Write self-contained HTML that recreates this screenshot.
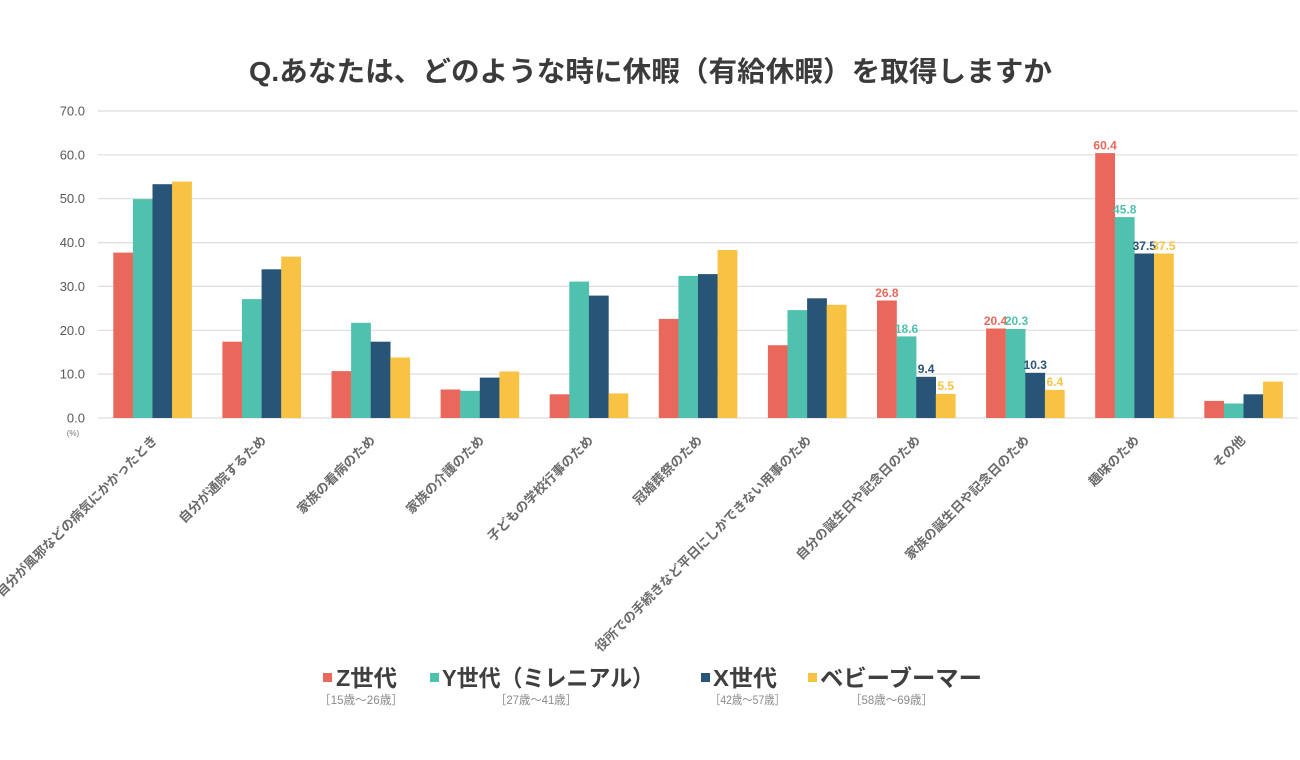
<!DOCTYPE html>
<html>
<head>
<meta charset="utf-8">
<style>
  html,body{margin:0;padding:0;background:#fff;}
  svg{display:block;}
  text{font-family:"Liberation Sans","Noto Sans CJK JP",sans-serif;}
</style>
</head>
<body>
<svg width="1300" height="760" viewBox="0 0 1300 760" xmlns="http://www.w3.org/2000/svg">
  <rect x="0" y="0" width="1300" height="760" fill="#ffffff"/>

  <!-- Title -->
  <text x="249" y="81" font-size="28" font-weight="bold" fill="#3b3b3b" textLength="803" lengthAdjust="spacingAndGlyphs">Q.あなたは、どのような時に休暇（有給休暇）を取得しますか</text>

  <!-- Gridlines -->
  <g stroke="#dedede" stroke-width="1.2">
    <line x1="98" y1="111" x2="1298" y2="111"/>
    <line x1="98" y1="154.8" x2="1298" y2="154.8"/>
    <line x1="98" y1="198.7" x2="1298" y2="198.7"/>
    <line x1="98" y1="242.6" x2="1298" y2="242.6"/>
    <line x1="98" y1="286.4" x2="1298" y2="286.4"/>
    <line x1="98" y1="330.3" x2="1298" y2="330.3"/>
    <line x1="98" y1="374.1" x2="1298" y2="374.1"/>
    <line x1="98" y1="418" x2="1298" y2="418"/>
  </g>

  <!-- Y tick labels -->
  <g font-size="13" fill="#595959" text-anchor="end">
    <text x="85" y="115.5">70.0</text>
    <text x="85" y="159.3">60.0</text>
    <text x="85" y="203.2">50.0</text>
    <text x="85" y="247.1">40.0</text>
    <text x="85" y="290.9">30.0</text>
    <text x="85" y="334.8">20.0</text>
    <text x="85" y="378.6">10.0</text>
    <text x="85" y="422.5">0.0</text>
  </g>
  <text x="73" y="436" font-size="8" fill="#777" text-anchor="middle">(%)</text>

  <!-- Bars: red -->
  <g fill="#E9685B">
    <rect x="113.3" y="252.6" width="19.8" height="165.4"/>
    <rect x="222.4" y="341.7" width="19.8" height="76.3"/>
    <rect x="331.5" y="371.1" width="19.8" height="46.9"/>
    <rect x="440.6" y="389.5" width="19.8" height="28.5"/>
    <rect x="549.7" y="394.3" width="19.8" height="23.7"/>
    <rect x="658.8" y="318.9" width="19.8" height="99.1"/>
    <rect x="767.9" y="345.2" width="19.8" height="72.8"/>
    <rect x="877.0" y="300.5" width="19.8" height="117.5"/>
    <rect x="986.1" y="328.5" width="19.8" height="89.5"/>
    <rect x="1095.2" y="153.1" width="19.8" height="264.9"/>
    <rect x="1204.3" y="400.9" width="19.8" height="17.1"/>
  </g>
  <!-- teal -->
  <g fill="#50C1AE">
    <rect x="132.9" y="199.1" width="19.8" height="218.9"/>
    <rect x="242.0" y="299.1" width="19.8" height="118.9"/>
    <rect x="351.1" y="322.8" width="19.8" height="95.2"/>
    <rect x="460.2" y="390.8" width="19.8" height="27.2"/>
    <rect x="569.3" y="281.6" width="19.8" height="136.4"/>
    <rect x="678.4" y="275.9" width="19.8" height="142.1"/>
    <rect x="787.5" y="310.1" width="19.8" height="107.9"/>
    <rect x="896.6" y="336.4" width="19.8" height="81.6"/>
    <rect x="1005.7" y="329.0" width="19.8" height="89.0"/>
    <rect x="1114.8" y="217.1" width="19.8" height="200.9"/>
    <rect x="1223.9" y="403.5" width="19.8" height="14.5"/>
  </g>
  <!-- navy -->
  <g fill="#285478">
    <rect x="152.5" y="184.2" width="19.8" height="233.8"/>
    <rect x="261.6" y="269.3" width="19.8" height="148.7"/>
    <rect x="370.7" y="341.7" width="19.8" height="76.3"/>
    <rect x="479.8" y="377.6" width="19.8" height="40.4"/>
    <rect x="588.9" y="295.6" width="19.8" height="122.4"/>
    <rect x="698.0" y="274.1" width="19.8" height="143.9"/>
    <rect x="807.1" y="298.3" width="19.8" height="119.7"/>
    <rect x="916.2" y="376.8" width="19.8" height="41.2"/>
    <rect x="1025.3" y="372.8" width="19.8" height="45.2"/>
    <rect x="1134.4" y="253.5" width="19.8" height="164.5"/>
    <rect x="1243.5" y="394.3" width="19.8" height="23.7"/>
  </g>
  <!-- yellow -->
  <g fill="#F8C342">
    <rect x="172.1" y="181.6" width="19.8" height="236.4"/>
    <rect x="281.2" y="256.6" width="19.8" height="161.4"/>
    <rect x="390.3" y="357.5" width="19.8" height="60.5"/>
    <rect x="499.4" y="371.5" width="19.8" height="46.5"/>
    <rect x="608.5" y="393.4" width="19.8" height="24.6"/>
    <rect x="717.6" y="250.0" width="19.8" height="168.0"/>
    <rect x="826.7" y="304.8" width="19.8" height="113.2"/>
    <rect x="935.8" y="393.9" width="19.8" height="24.1"/>
    <rect x="1044.9" y="389.9" width="19.8" height="28.1"/>
    <rect x="1154.0" y="253.5" width="19.8" height="164.5"/>
    <rect x="1263.1" y="381.6" width="19.8" height="36.4"/>
  </g>

  <!-- Data labels -->
  <g font-size="12" font-weight="bold" text-anchor="middle">
    <text x="886.9" y="297" fill="#E9685B">26.8</text>
    <text x="906.5" y="333" fill="#50C1AE">18.6</text>
    <text x="926.1" y="373" fill="#285478">9.4</text>
    <text x="945.7" y="390" fill="#F8C342">5.5</text>

    <text x="995.5" y="325" fill="#E9685B">20.4</text>
    <text x="1016.5" y="325" fill="#50C1AE">20.3</text>
    <text x="1035.2" y="369" fill="#285478">10.3</text>
    <text x="1054.8" y="386" fill="#F8C342">6.4</text>

    <text x="1105.1" y="149.5" fill="#E9685B">60.4</text>
    <text x="1124.7" y="213.5" fill="#50C1AE">45.8</text>
    <text x="1144.3" y="250" fill="#285478">37.5</text>
    <text x="1163.9" y="250" fill="#F8C342">37.5</text>
  </g>

  <!-- X category labels -->
  <g font-size="13" font-weight="bold" fill="#6a6a6a" text-anchor="end">
    <text transform="translate(158,441) rotate(-45)">自分が風邪などの病気にかかったとき</text>
    <text transform="translate(267,441) rotate(-45)">自分が通院するため</text>
    <text transform="translate(376,441) rotate(-45)">家族の看病のため</text>
    <text transform="translate(485,441) rotate(-45)">家族の介護のため</text>
    <text transform="translate(594,441) rotate(-45)">子どもの学校行事のため</text>
    <text transform="translate(703,441) rotate(-45)">冠婚葬祭のため</text>
    <text transform="translate(812,441) rotate(-45)">役所での手続きなど平日にしかできない用事のため</text>
    <text transform="translate(921,441) rotate(-45)">自分の誕生日や記念日のため</text>
    <text transform="translate(1030,441) rotate(-45)">家族の誕生日や記念日のため</text>
    <text transform="translate(1140,441) rotate(-45)">趣味のため</text>
    <text transform="translate(1246,441) rotate(-45)">その他</text>
  </g>

  <!-- Legend -->
  <rect x="323" y="673" width="9" height="9" fill="#E9685B"/>
  <rect x="430" y="673" width="9" height="9" fill="#50C1AE"/>
  <rect x="701" y="673" width="9" height="9" fill="#285478"/>
  <rect x="808" y="673" width="9" height="9" fill="#F8C342"/>
  <g font-size="23" font-weight="bold" fill="#3f3f3f">
    <text x="336" y="686" textLength="61" lengthAdjust="spacingAndGlyphs">Z世代</text>
    <text x="442" y="686" textLength="212" lengthAdjust="spacingAndGlyphs">Y世代（ミレニアル）</text>
    <text x="713" y="686" textLength="64" lengthAdjust="spacingAndGlyphs">X世代</text>
    <text x="820" y="686" textLength="162" lengthAdjust="spacingAndGlyphs">ベビーブーマー</text>
  </g>
  <g font-size="12" fill="#8a8a8a">
    <text x="319" y="704" textLength="84" lengthAdjust="spacingAndGlyphs">［15歳〜26歳］</text>
    <text x="495" y="704" textLength="82" lengthAdjust="spacingAndGlyphs">［27歳〜41歳］</text>
    <text x="710" y="704" textLength="75" lengthAdjust="spacingAndGlyphs">［42歳〜57歳］</text>
    <text x="850" y="704" textLength="83" lengthAdjust="spacingAndGlyphs">［58歳〜69歳］</text>
  </g>
</svg>
</body>
</html>
